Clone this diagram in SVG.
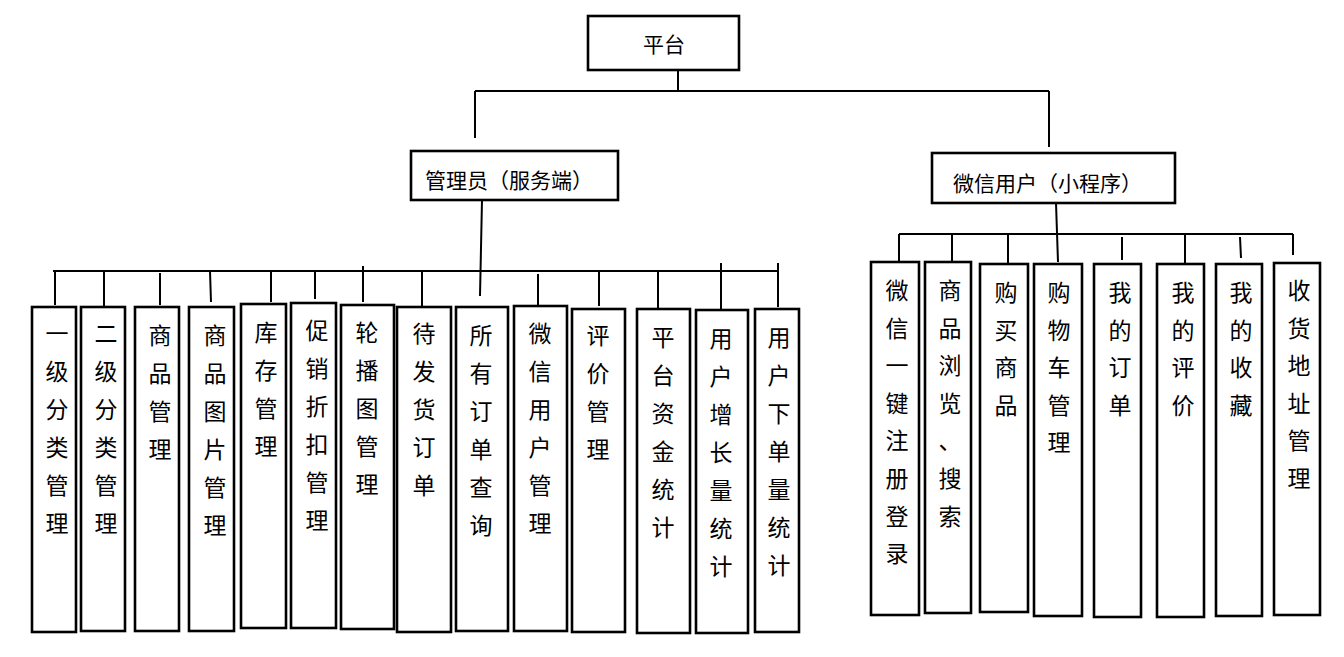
<svg xmlns="http://www.w3.org/2000/svg" width="1344" height="657" viewBox="0 0 1344 657">
<style>
.box{fill:#fff;stroke:#000;stroke-width:2.6}
.ln{stroke:#000;stroke-width:2;fill:none}
.t{font-family:"Noto Sans CJK SC","Microsoft YaHei",sans-serif;font-size:23px;fill:#000;text-anchor:middle}
.h{font-family:"Noto Sans CJK SC","Microsoft YaHei",sans-serif;font-size:21px;fill:#000}
</style>
<rect width="1344" height="657" fill="#fff"/>
<g id="connectors">
<path class="ln" d="M678 70V92M475 91H1049M475 91V138M1049 91V147"/>
<path class="ln" d="M482 200L480 296M53 271H778"/>
<path class="ln" d="M55 271V305M104 271V306M160 273V305M210 271L211 302M271 271V302M315 271V299M363 266V302M422 271V306M538 274V305M599 271V306M658 271V309M721 263V309M778 263V307"/>
<path class="ln" d="M1056 203L1058 262M899 234H1293"/>
<path class="ln" d="M899 234V262M952 234V262M1008 234V264M1122 237V260M1185 234V263M1240 237L1241 258M1293 234V255"/>
</g>
<g id="root"><rect class="box" x="588" y="16" width="151" height="54"/><text class="h" x="664" y="52" text-anchor="middle">平台</text></g>
<g id="admin"><rect class="box" x="411" y="151" width="207" height="49"/><text class="h" x="425" y="188">管理员（服务端）</text></g>
<g id="wxuser"><rect class="box" x="932" y="153" width="243" height="50"/><text class="h" x="953" y="191">微信用户（小程序）</text></g>

<g id="a1"><rect class="box" x="32" y="307" width="44" height="325"/><text class="t" y="342"><tspan x="57">一</tspan><tspan x="57" dy="38">级</tspan><tspan x="57" dy="38">分</tspan><tspan x="57" dy="38">类</tspan><tspan x="57" dy="38">管</tspan><tspan x="57" dy="38">理</tspan></text></g>
<g id="a2"><rect class="box" x="81" y="307" width="44" height="324"/><text class="t" y="342"><tspan x="106">二</tspan><tspan x="106" dy="38">级</tspan><tspan x="106" dy="38">分</tspan><tspan x="106" dy="38">类</tspan><tspan x="106" dy="38">管</tspan><tspan x="106" dy="38">理</tspan></text></g>
<g id="a3"><rect class="box" x="135" y="307" width="44" height="324"/><text class="t" y="344"><tspan x="160">商</tspan><tspan x="160" dy="38">品</tspan><tspan x="160" dy="38">管</tspan><tspan x="160" dy="38">理</tspan></text></g>
<g id="a4"><rect class="box" x="189" y="307" width="45" height="324"/><text class="t" y="344"><tspan x="215">商</tspan><tspan x="215" dy="38">品</tspan><tspan x="215" dy="38">图</tspan><tspan x="215" dy="38">片</tspan><tspan x="215" dy="38">管</tspan><tspan x="215" dy="38">理</tspan></text></g>
<g id="a5"><rect class="box" x="241" y="304" width="45" height="324"/><text class="t" y="341"><tspan x="266">库</tspan><tspan x="266" dy="38">存</tspan><tspan x="266" dy="38">管</tspan><tspan x="266" dy="38">理</tspan></text></g>
<g id="a6"><rect class="box" x="291" y="303" width="45" height="325"/><text class="t" y="339"><tspan x="317">促</tspan><tspan x="317" dy="38">销</tspan><tspan x="317" dy="38">折</tspan><tspan x="317" dy="38">扣</tspan><tspan x="317" dy="38">管</tspan><tspan x="317" dy="38">理</tspan></text></g>
<g id="a7"><rect class="box" x="341" y="305" width="53" height="324"/><text class="t" y="341"><tspan x="367">轮</tspan><tspan x="367" dy="38">播</tspan><tspan x="367" dy="38">图</tspan><tspan x="367" dy="38">管</tspan><tspan x="367" dy="38">理</tspan></text></g>
<g id="a8"><rect class="box" x="397" y="307" width="54" height="325"/><text class="t" y="342"><tspan x="424">待</tspan><tspan x="424" dy="38">发</tspan><tspan x="424" dy="38">货</tspan><tspan x="424" dy="38">订</tspan><tspan x="424" dy="38">单</tspan></text></g>
<g id="a9"><rect class="box" x="456" y="307" width="52" height="324"/><text class="t" y="344"><tspan x="481">所</tspan><tspan x="481" dy="38">有</tspan><tspan x="481" dy="38">订</tspan><tspan x="481" dy="38">单</tspan><tspan x="481" dy="38">查</tspan><tspan x="481" dy="38">询</tspan></text></g>
<g id="a10"><rect class="box" x="514" y="306" width="53" height="325"/><text class="t" y="342"><tspan x="540">微</tspan><tspan x="540" dy="38">信</tspan><tspan x="540" dy="38">用</tspan><tspan x="540" dy="38">户</tspan><tspan x="540" dy="38">管</tspan><tspan x="540" dy="38">理</tspan></text></g>
<g id="a11"><rect class="box" x="572" y="309" width="53" height="323"/><text class="t" y="344"><tspan x="598">评</tspan><tspan x="598" dy="38">价</tspan><tspan x="598" dy="38">管</tspan><tspan x="598" dy="38">理</tspan></text></g>
<g id="a12"><rect class="box" x="637" y="309" width="53" height="324"/><text class="t" y="346"><tspan x="663">平</tspan><tspan x="663" dy="38">台</tspan><tspan x="663" dy="38">资</tspan><tspan x="663" dy="38">金</tspan><tspan x="663" dy="38">统</tspan><tspan x="663" dy="38">计</tspan></text></g>
<g id="a13"><rect class="box" x="696" y="310" width="52" height="323"/><text class="t" y="347"><tspan x="721">用</tspan><tspan x="721" dy="38">户</tspan><tspan x="721" dy="38">增</tspan><tspan x="721" dy="38">长</tspan><tspan x="721" dy="38">量</tspan><tspan x="721" dy="38">统</tspan><tspan x="721" dy="38">计</tspan></text></g>
<g id="a14"><rect class="box" x="755" y="309" width="44" height="323"/><text class="t" y="346"><tspan x="779">用</tspan><tspan x="779" dy="38">户</tspan><tspan x="779" dy="38">下</tspan><tspan x="779" dy="38">单</tspan><tspan x="779" dy="38">量</tspan><tspan x="779" dy="38">统</tspan><tspan x="779" dy="38">计</tspan></text></g>

<g id="u1"><rect class="box" x="871" y="262" width="48" height="353"/><text class="t" y="299"><tspan x="897">微</tspan><tspan x="897" dy="37.6">信</tspan><tspan x="897" dy="37.6">一</tspan><tspan x="897" dy="37.6">键</tspan><tspan x="897" dy="37.6">注</tspan><tspan x="897" dy="37.6">册</tspan><tspan x="897" dy="37.6">登</tspan><tspan x="897" dy="37.6">录</tspan></text></g>
<g id="u2"><rect class="box" x="925" y="262" width="46" height="351"/><text class="t" y="299"><tspan x="950">商</tspan><tspan x="950" dy="37.6">品</tspan><tspan x="950" dy="37.6">浏</tspan><tspan x="950" dy="37.6">览</tspan><tspan x="950" dy="37.6">、</tspan><tspan x="950" dy="37.6">搜</tspan><tspan x="950" dy="37.6">索</tspan></text></g>
<g id="u3"><rect class="box" x="980" y="264" width="48" height="348"/><text class="t" y="301"><tspan x="1006">购</tspan><tspan x="1006" dy="37.6">买</tspan><tspan x="1006" dy="37.6">商</tspan><tspan x="1006" dy="37.6">品</tspan></text></g>
<g id="u4"><rect class="box" x="1034" y="264" width="48" height="352"/><text class="t" y="301"><tspan x="1059">购</tspan><tspan x="1059" dy="37.6">物</tspan><tspan x="1059" dy="37.6">车</tspan><tspan x="1059" dy="37.6">管</tspan><tspan x="1059" dy="37.6">理</tspan></text></g>
<g id="u5"><rect class="box" x="1094" y="264" width="47" height="353"/><text class="t" y="301"><tspan x="1120">我</tspan><tspan x="1120" dy="37.6">的</tspan><tspan x="1120" dy="37.6">订</tspan><tspan x="1120" dy="37.6">单</tspan></text></g>
<g id="u6"><rect class="box" x="1157" y="264" width="47" height="353"/><text class="t" y="301"><tspan x="1183">我</tspan><tspan x="1183" dy="37.6">的</tspan><tspan x="1183" dy="37.6">评</tspan><tspan x="1183" dy="37.6">价</tspan></text></g>
<g id="u7"><rect class="box" x="1216" y="264" width="46" height="352"/><text class="t" y="301"><tspan x="1241">我</tspan><tspan x="1241" dy="37.6">的</tspan><tspan x="1241" dy="37.6">收</tspan><tspan x="1241" dy="37.6">藏</tspan></text></g>
<g id="u8"><rect class="box" x="1274" y="263" width="46" height="352"/><text class="t" y="299"><tspan x="1299">收</tspan><tspan x="1299" dy="37.6">货</tspan><tspan x="1299" dy="37.6">地</tspan><tspan x="1299" dy="37.6">址</tspan><tspan x="1299" dy="37.6">管</tspan><tspan x="1299" dy="37.6">理</tspan></text></g>
</svg>
